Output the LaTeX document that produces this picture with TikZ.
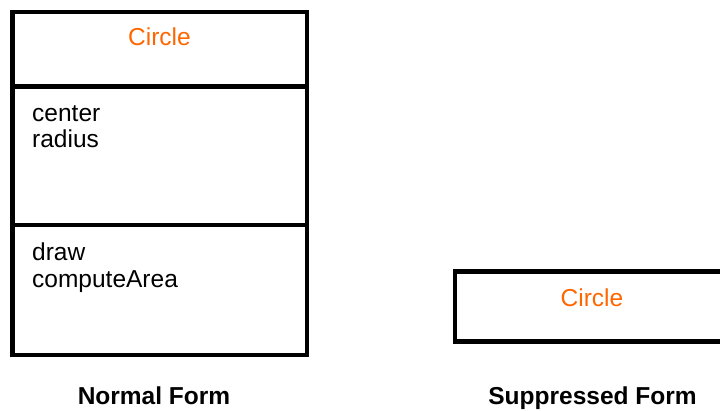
\documentclass[tikz,border=0pt]{standalone}
\usepackage{fontspec}
\setmainfont{Liberation Sans}
\usepackage{xcolor}
\usetikzlibrary{positioning}
\definecolor{classorange}{RGB}{255,102,0}

\begin{document}
\begin{tikzpicture}[x=1pt,y=-1pt,
			every node/.style={font=\fontsize{24.5}{26.5}\selectfont},
			compart/.style={draw=black,line width=4.6pt,rectangle,inner sep=0pt,outer sep=0pt}]
			\tikzstyle{member}=[anchor=base west,align=left,inner sep=0pt]
			\tikzstyle{caption}=[anchor=base,font=\fontsize{24.5}{26.5}\selectfont\bfseries]
			
			\useasboundingbox (0,0) rectangle (720,411);
			\clip (0,0) rectangle (720,411);
			
			% normal form
			\node[compart, minimum width=294.7pt, minimum height=74.5pt, anchor=north west] (name) at (12.3,12) {};
			
			\node[compart, minimum width=294.7pt, minimum height=138.5pt, below=0pt of name] (attrs) {};
			
			\node[compart, minimum width=294.7pt, minimum height=130pt, below=0pt of attrs] (ops) {};
			
			\node[anchor=base, text=classorange] (nametext) at (159.5,46) {Circle};
			
			% base of a two-line node is its last line
			\node[member] (attrtext) at (32,148) {center\\radius};
			
			\node[member] (optext) at (32,287.5) {draw\\computeArea};
			
			% suppressed form
			\node[compart, minimum width=274pt, minimum height=70pt, anchor=north west] (supp) at (455,271.7) {};
			
			\node[anchor=base, text=classorange] (supptext) at (592,307) {Circle};
			
			% captions
			\node[caption] (normal) at (154,404) {Normal Form};
			
			\node[caption] (suppressed) at (592.5,404) {Suppressed Form};
			
\end{tikzpicture}
\end{document}
